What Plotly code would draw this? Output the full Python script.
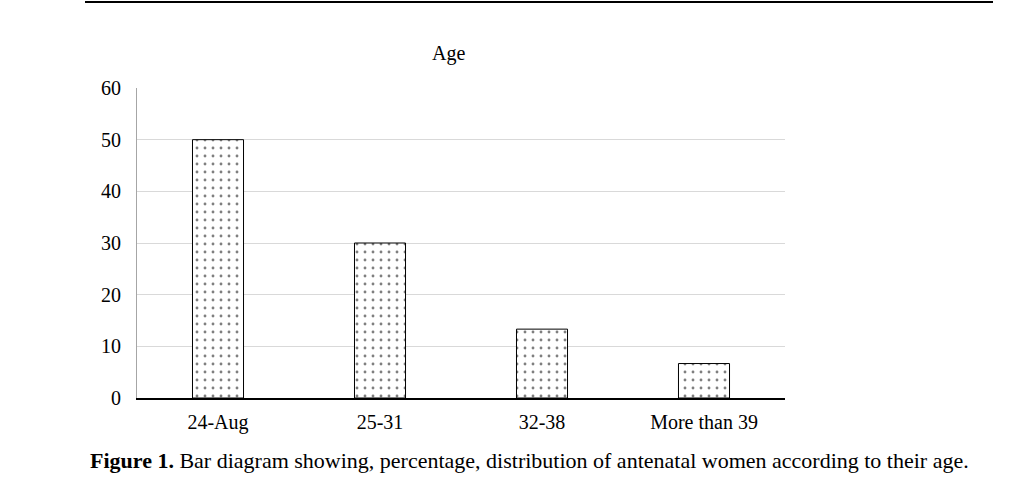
import plotly.graph_objects as go

categories = ["24-Aug", "25-31", "32-38", "More than 39"]
values = [50, 30, 13.33, 6.67]
y_ticks = [0, 10, 20, 30, 40, 50, 60]

W, H = 1021, 487
L, R, T, B = 137, 785, 88, 398
pw, ph = R - L, B - T

def px(x):
    return (x - L) / pw

def py(y):
    return (B - y) / ph

font = "Liberation Serif, Times New Roman, serif"

fig = go.Figure(go.Bar(
    x=categories, y=values, width=0.315,
    marker=dict(color="white", line=dict(color="black", width=1),
                pattern=dict(shape=".", fgcolor="black", bgcolor="white", size=8, solidity=0.1, fillmode="overlay")),
))

fig.update_layout(
    width=W, height=H, margin=dict(l=L, r=W - R, t=T, b=H - B),
    paper_bgcolor="white", plot_bgcolor="white", showlegend=False,
    font=dict(family=font, size=20, color="black"),
    xaxis=dict(showline=True, linecolor="black", linewidth=1.5, ticks="", ticklabelstandoff=5,
               tickfont=dict(family=font, size=20, color="black")),
    yaxis=dict(range=[0, 60], tickvals=y_ticks, showgrid=True, gridcolor="#d9d9d9", gridwidth=1,
               showline=True, linecolor="#a6a6a6", linewidth=1, zeroline=False, ticks="",
               ticklabelstandoff=11, tickfont=dict(family=font, size=20, color="black")),
    shapes=[dict(type="line", xref="paper", yref="paper", x0=px(85), x1=px(993), y0=py(2), y1=py(2),
                 line=dict(color="black", width=2))],
    annotations=[
        dict(text="Age", xref="paper", yref="paper", x=px(448), y=py(53), showarrow=False,
             xanchor="center", yanchor="middle", font=dict(family=font, size=20, color="black")),
        dict(text="<b>Figure 1.</b> Bar diagram showing, percentage, distribution of antenatal women according to their age.",
             xref="paper", yref="paper", x=px(88), y=py(460), showarrow=False,
             xanchor="left", yanchor="middle", font=dict(family=font, size=22, color="black")),
    ],
)

fig.write_html("out.html")
